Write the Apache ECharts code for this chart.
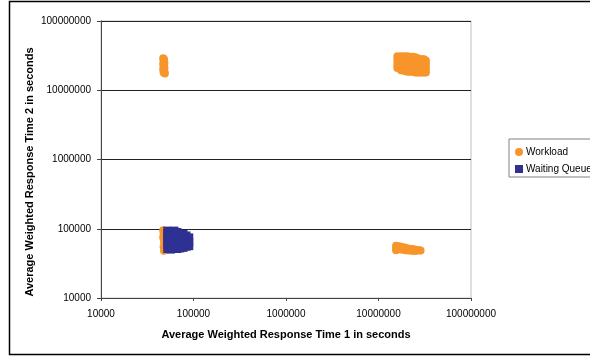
<!DOCTYPE html>
<html>
<head>
<meta charset="utf-8">
<script src="https://cdn.jsdelivr.net/npm/echarts@6/dist/echarts.min.js"></script>
<style>
html,body{margin:0;padding:0;background:#fff;}
#chart{width:590px;height:358px;}
</style>
</head>
<body>
<div id="chart"></div>
<script>
// Workload points [x, y]
const workloadPoints = [
  // upper left cluster
  [47000,29000000],[48000,28000000],[47500,26500000],[48500,25000000],[47000,24000000],[48000,23000000],
  [47500,22000000],[48500,21000000],[47000,20000000],[48000,19500000],[48500,18500000],[47500,18000000],[49000,17500000],
  // upper right cluster
  [16000000,31000000],[16000000,28000000],[16000000,25000000],[16000000,22500000],[16000000,21000000],
  [17500000,31000000],[17500000,28000000],[17500000,25000000],[17500000,22000000],[17500000,19500000],
  [19000000,31000000],[19000000,28000000],[19000000,25000000],[19000000,22000000],[19000000,19000000],
  [20500000,31000000],[20500000,28000000],[20500000,25000000],[20500000,22000000],[20500000,19000000],[20500000,18500000],
  [22000000,30500000],[22000000,28000000],[22000000,25000000],[22000000,22000000],[22000000,19000000],[22000000,18500000],
  [23500000,30500000],[23500000,27500000],[23500000,25000000],[23500000,22000000],[23500000,19000000],[23500000,18500000],
  [25000000,30000000],[25000000,27500000],[25000000,24500000],[25000000,21500000],[25000000,19000000],[25000000,18000000],
  [26500000,29000000],[26500000,27000000],[26500000,24000000],[26500000,21500000],[26500000,19000000],[26500000,18000000],
  [28000000,28000000],[28000000,26000000],[28000000,23500000],[28000000,21000000],[28000000,19000000],[28000000,18000000],
  [29500000,28000000],[29500000,25500000],[29500000,23000000],[29500000,20500000],[29500000,18000000],
  [31000000,28000000],[31000000,25500000],[31000000,23000000],[31000000,20500000],[31000000,18000000],
  [32500000,27000000],[32500000,24500000],[32500000,22000000],[32500000,20000000],[32500000,18000000],
  // lower right cluster
  [15500000,57000],[15500000,53000],[15500000,49000],[16500000,56000],[16500000,51000],[17500000,55000],[17500000,50000],
  [18500000,54000],[18500000,50000],[19500000,53000],[19500000,49000],[20500000,52000],[20500000,49000],
  [21500000,51500],[21500000,48500],[22500000,51000],[22500000,48500],[23500000,50500],[23500000,48000],
  [24500000,50000],[24500000,48000],[25500000,49500],[25500000,48000],[26500000,49000],[27500000,49000],[28500000,48500],
  // lower left cluster
  [47000,95000],[47500,85000],[47000,75000],[48000,65000],[47500,55000],[48000,48000],[50000,50000]
];
// Waiting Queue points [x, y]
const queuePoints = [
  [52000,94000],[52000,85000],[52000,75000],[52000,66000],[52000,58000],[52000,51000],
  [57000,92000],[57000,80000],[57000,68000],[57000,56000],[57000,50000],
  [62000,94000],[62000,82000],[62000,70000],[62000,60000],[62000,52000],
  [67000,90000],[67000,76000],[67000,62000],[67000,51000],
  [72000,83000],[72000,70000],[72000,58000],[72000,52000],
  [78000,84000],[78000,72000],[78000,60000],[78000,53000],
  [84000,80000],[84000,66000],[84000,55000],
  [90000,75000],[90000,64000],[90000,56000]
];
const seriesNames = ['Workload','Waiting Queue'];
const xTitle = 'Average Weighted Response Time 1 in seconds';
const yTitle = 'Average Weighted Response Time 2 in seconds';

const chart = echarts.init(document.getElementById('chart'), null, {renderer:'canvas'});
const font = 'Liberation Sans, Arial, sans-serif';
chart.setOption({
  animation:false,
  backgroundColor:'#fff',
  textStyle:{fontFamily:font},
  grid:{left:101, top:21, right:119, bottom:60, show:true, borderColor:'#c0c0c0', borderWidth:1, backgroundColor:'transparent'},
  xAxis:{
    type:'log', logBase:10, min:10000, max:100000000,
    name:xTitle, nameLocation:'middle', nameGap:31,
    nameTextStyle:{fontSize:11, fontWeight:'bold', color:'#000', fontFamily:font},
    axisLine:{show:true, lineStyle:{color:'#444', width:1}},
    axisTick:{show:true, length:3, lineStyle:{color:'#444'}},
    minorTick:{show:false},
    splitLine:{show:false},
    axisLabel:{margin:11, fontSize:10, color:'#000', fontFamily:font, formatter:v=>String(Math.round(v))}
  },
  yAxis:{
    type:'log', logBase:10, min:10000, max:100000000,
    axisLine:{show:true, lineStyle:{color:'#444', width:1}},
    axisTick:{show:true, length:4, lineStyle:{color:'#444'}},
    splitLine:{show:true, lineStyle:{color:'#222', width:1}},
    axisLabel:{margin:10, fontSize:10, color:'#000', fontFamily:font, formatter:v=>String(Math.round(v))}
  },
  legend:{
    orient:'vertical', left:509, top:139, padding:[8,40,3,6],
    itemGap:7, itemWidth:8, itemHeight:8,
    borderColor:'#808080', borderWidth:1,
    textStyle:{fontSize:10, color:'#000', fontFamily:font, padding:[0,0,0,-2]},
    data:[{name:seriesNames[0], icon:'circle'},{name:seriesNames[1], icon:'rect'}]
  },
  graphic:[
    {type:'rect', shape:{x:9.5, y:1.5, width:600, height:353}, style:{fill:'none', stroke:'#000', lineWidth:1.5}, silent:true},
    {type:'text', x:30, y:172, rotation:Math.PI/2, style:{text:yTitle, fontSize:11, fontWeight:'bold', fill:'#000', fontFamily:font, align:'center', verticalAlign:'middle'}}
  ],
  series:[
    {name:seriesNames[0], type:'scatter', symbol:'circle', symbolSize:8, itemStyle:{color:'#F7952B', opacity:1}, data:workloadPoints, z:2},
    {name:seriesNames[1], type:'scatter', symbol:'rect', symbolSize:8, itemStyle:{color:'#2E3192', opacity:1}, data:queuePoints, z:3}
  ]
});
</script>
</body>
</html>
